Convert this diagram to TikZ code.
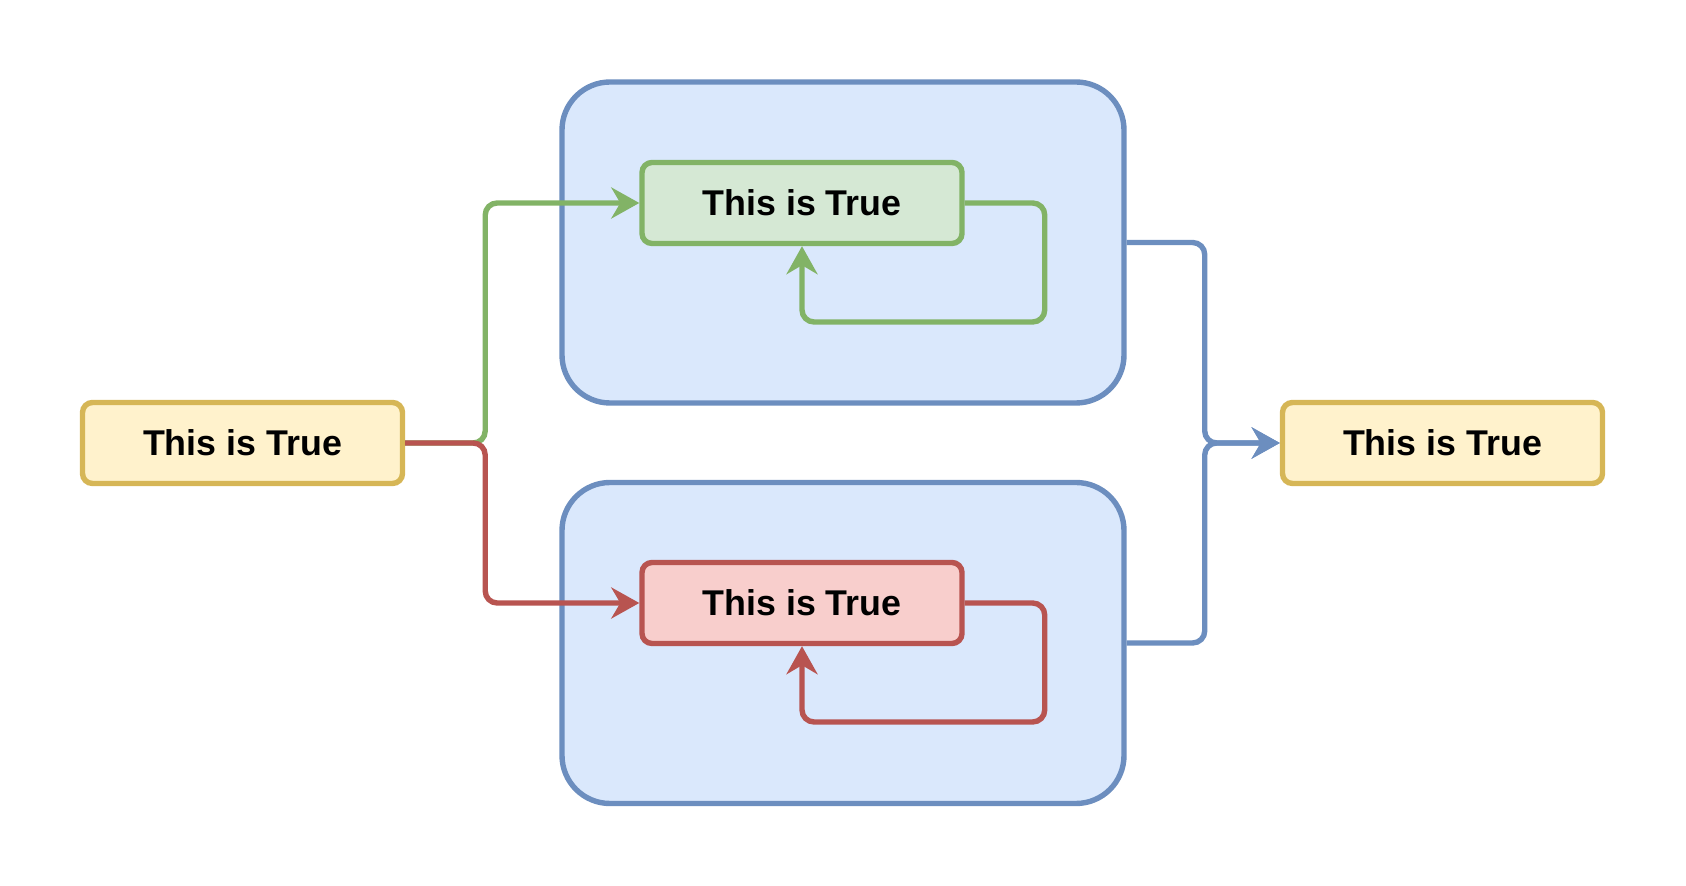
\documentclass[tikz,border=0pt]{standalone}
\usepackage{fontspec}
\setmainfont{Liberation Sans}
\usetikzlibrary{arrows.meta}

\definecolor{ylwfill}{HTML}{FFF2CC}
\definecolor{ylwline}{HTML}{D6B656}
\definecolor{grnfill}{HTML}{D5E8D4}
\definecolor{grnline}{HTML}{82B366}
\definecolor{redfill}{HTML}{F8CECC}
\definecolor{redline}{HTML}{B85450}
\definecolor{bluefill}{HTML}{DAE8FC}
\definecolor{blueline}{HTML}{6C8EBF}

\begin{document}
\begin{tikzpicture}[x=0.5pt,y=-0.5pt,line width=2.7pt,
  font=\fontsize{17.9}{21}\selectfont\bfseries,
  state node/.style={rectangle,rounded corners=5pt,draw,minimum width=160pt,minimum height=40.5pt,inner sep=0pt},
  group node/.style={rectangle,rounded corners=24pt,draw=blueline,fill=bluefill,minimum width=281pt,minimum height=160.5pt},
  link/.style={rounded corners=6pt,-{Stealth[length=14pt,width=15.5pt,inset=4.5pt]}}]

  \useasboundingbox (0,0) rectangle (1686,886);

  \node[group node] (top) at (843,242.5) {};
  \node[group node] (bottom) at (843,643) {};

  \node[state node,draw=ylwline,fill=ylwfill] (start) at (242.5,443) {This is True};
  \node[state node,draw=ylwline,fill=ylwfill] (end) at (1442.5,443) {This is True};
  \node[state node,draw=grnline,fill=grnfill] (green) at (802,203) {This is True};
  \node[state node,draw=redline,fill=redfill] (red) at (802,603) {This is True};

  % into the two groups
  \draw[link,grnline] (start.east) -- ++(80,0) |- (green.west);
  \draw[link,redline] (start.east) -- ++(80,0) |- (red.west);

  % loops
  \draw[link,grnline] (green.east) -- ++(80,0) -- ++(0,119) -| (green.south);
  \draw[link,redline] (red.east) -- ++(80,0) -- ++(0,119) -| (red.south);

  % out of the groups
  \draw[link,blueline] (top.east) -- ++(78,0) |- (end.west);
  \draw[link,blueline] (bottom.east) -- ++(78,0) |- (end.west);
\end{tikzpicture}
\end{document}
